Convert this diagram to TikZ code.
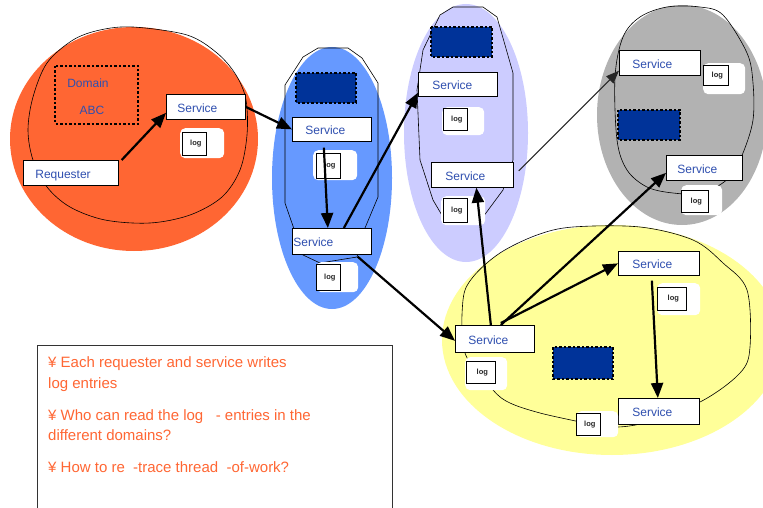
\documentclass[tikz,border=0pt]{standalone}
\usepackage{fontspec}
\setmainfont{Liberation Sans}
\usetikzlibrary{arrows.meta,calc}
\definecolor{orng}{HTML}{FF6633}
\definecolor{bluefill}{HTML}{6699FF}
\definecolor{lavfill}{HTML}{CCCCFF}
\definecolor{grayfill}{HTML}{B2B2B2}
\definecolor{yelfill}{HTML}{FFFF99}
\definecolor{dkblue}{HTML}{003399}
\definecolor{svcblue}{HTML}{2F4FAF}
\definecolor{boxgray}{HTML}{333333}
\begin{document}
\begin{tikzpicture}[x=1pt,y=-1pt,
  outline/.style={draw=black, line width=0.6pt},
  svc/.style={draw=black, line width=0.7pt, fill=white, font=\fontsize{12}{14}\selectfont,
    text=svcblue, minimum height=25pt, inner ysep=0pt, align=left, anchor=north west,
    text height=11pt, text depth=0pt},
  blob/.style={fill=white, rounded corners=5pt, inner sep=0pt, anchor=north west},
  logrect/.style={draw=black, line width=0.6pt, fill=white, inner sep=0pt, anchor=north west,
    font=\fontsize{7.5}{8}\selectfont\bfseries, text=black!85},
  darkrect/.style={fill=dkblue, draw=black, line width=2.4pt, dash pattern=on 2.5pt off 2pt},
  arr/.style={line width=2.2pt, -{Triangle[length=15pt,width=12pt]}},
  thinarr/.style={line width=1pt, draw=black!85, -{Triangle[length=13pt,width=10pt]}},
  lbl/.style={font=\fontsize{12}{14}\selectfont, text=svcblue, inner sep=0pt}
]
\useasboundingbox (0,0) rectangle (763,508);

% ---------- domain fills ----------
\fill[yelfill] (612,340) ellipse [x radius=170pt, y radius=115pt];
\fill[orng] (134,139) ellipse [x radius=124pt, y radius=112pt];
\fill[bluefill] (332,178) ellipse [x radius=60pt, y radius=131pt];
\fill[lavfill] (466,133) ellipse [x radius=62pt, y radius=129pt];
\fill[grayfill] (682,115) ellipse [x radius=85pt, y radius=110pt];

% ---------- inner outlines ----------
\draw[outline] plot[smooth cycle, tension=0.55] coordinates {
  (133,27) (187,35) (217,53) (236,75) (246,100) (247,135) (240,170) (222,197)
  (190,215) (150,223) (105,220) (70,207) (47,187) (33,160) (28,130) (33,97)
  (47,63) (73,40) (100,30)};
\draw[outline] (303,57) -- (318,48) -- (348,48) -- (362,58) -- (378,83) -- (378,197)
  -- (365,228) -- (357,257) -- (320,263) -- (303,255) -- (285,203) -- (285,85) -- cycle;
\draw[outline] (440,15) -- (453,7) -- (483,7) -- (497,17) -- (513,73) -- (513,160)
  -- (503,190) -- (483,217) -- (463,220) -- (443,217) -- (433,200) -- (420,160)
  -- (417,90) -- (423,50) -- cycle;
\draw[outline] plot[smooth cycle, tension=0.55] coordinates {
  (640,17) (667,7) (700,7) (723,15) (747,53) (753,83) (753,120) (743,153)
  (730,177) (703,193) (673,193) (647,187) (627,170) (617,140) (615,77) (623,37)};
\draw[outline] plot[smooth cycle, tension=0.55] coordinates {
  (537,235) (573,227) (640,227) (693,240) (723,263) (747,290) (750,347) (740,373)
  (700,402) (640,424) (600,427) (580,422) (540,413) (510,403) (493,390) (465,353)
  (463,300) (473,277) (500,253)};

% ---------- dark / dotted boxes ----------
\draw[black, line width=2.4pt, dash pattern=on 2.5pt off 2pt] (55,66) rectangle (138,124);
\draw[darkrect] (296,73) rectangle (356,103);
\draw[darkrect] (431,27) rectangle (492,57);
\draw[darkrect] (618,110) rectangle (680,140);
\draw[darkrect] (553,347) rectangle (613,379);

\node[lbl] (dom) at (88,83) {Domain};
\node[lbl] (abc) at (92,110) {ABC};

% ---------- services ----------
\node[svc, text width=57pt, inner xsep=11pt] (s1) at (166,94) {Service};
\node[svc, text width=71pt, inner xsep=12pt] (req) at (23,160) {Requester};
\node[svc, text width=53pt, inner xsep=13pt, minimum height=24pt] (s2) at (292,117) {Service};
\node[svc, text width=77pt, inner xsep=1pt, minimum height=26pt] (s3) at (292,228) {Service};
\node[svc, text width=51pt, inner xsep=14pt, minimum height=24pt] (s4) at (418,72) {Service};
\node[svc, text width=54pt, inner xsep=14pt] (s5) at (431,162) {Service};
\node[svc, text width=55pt, inner xsep=13pt] (s6) at (619,50) {Service};
\node[svc, text width=54pt, inner xsep=11pt] (s7) at (666,155) {Service};
\node[svc, text width=53pt, inner xsep=13pt, minimum height=27pt] (s8) at (455,325) {Service};
\node[svc, text width=53pt, inner xsep=14pt, minimum height=24pt] (s9) at (618,251) {Service};
\node[svc, text width=53pt, inner xsep=14pt, minimum height=26pt] (s10) at (618,398) {Service};

% ---------- logs ----------
\node[blob, minimum width=44pt, minimum height=30pt] (b1) at (180,128) {};
\node[logrect, minimum width=24pt, minimum height=23pt] (l1) at (182,132) {\hspace{3pt}log};
\node[blob, minimum width=44pt, minimum height=30pt] (b2) at (313,150) {};
\node[logrect, minimum width=24pt, minimum height=25pt] (l2) at (316,153) {\hspace{3pt}log};
\node[blob, minimum width=42pt, minimum height=30pt] (b3) at (316,262) {};
\node[logrect, minimum width=24pt, minimum height=26pt] (l3) at (316,264) {\hspace{3pt}log};
\node[blob, minimum width=42pt, minimum height=28pt] (b4) at (442,107) {};
\node[logrect, minimum width=24pt, minimum height=22pt] (l4) at (443,108) {\hspace{3pt}log};
\node[blob, minimum width=44pt, minimum height=29pt] (b5) at (441,196) {};
\node[logrect, minimum width=24pt, minimum height=24pt] (l5) at (443,198) {\hspace{3pt}log};
\node[blob, minimum width=42pt, minimum height=31pt] (b6) at (703,63) {};
\node[logrect, minimum width=25pt, minimum height=20pt] (l6) at (703,65) {\hspace{3pt}log};
\node[blob, minimum width=41pt, minimum height=30pt] (b7) at (681,185) {};
\node[logrect, minimum width=27pt, minimum height=22pt] (l7) at (681,190) {\hspace{3pt}log};
\node[blob, minimum width=42pt, minimum height=33pt] (b8) at (465,357) {};
\node[logrect, minimum width=29pt, minimum height=22pt] (l8) at (466,361) {\hspace{3pt}log};
\node[blob, minimum width=43pt, minimum height=32pt] (b9) at (657,283) {};
\node[logrect, minimum width=29pt, minimum height=23pt] (l9) at (657,287) {\hspace{3pt}log};
\node[blob, minimum width=42pt, minimum height=26pt] (b10) at (576,411) {};
\node[logrect, minimum width=24pt, minimum height=22pt] (l10) at (576,413) {\hspace{3pt}log};

% ---------- connectors ----------
\draw[arr] ([xshift=3pt]req.north east) -- ([yshift=-6pt]s1.west);
\draw[arr] (s1.east) -- (s2.west);
\draw[arr] ([xshift=-8pt,yshift=-6pt]s2.south) -- ([xshift=-4pt]s3.north);
\draw[arr] ([xshift=12pt]s3.north) -- ([yshift=4pt]s4.south west);
\draw[arr] ([xshift=-14pt,yshift=-2pt]s3.south east) -- ([yshift=-2pt]s8.west);
\draw[arr] ([xshift=-4pt]s8.north) -- ([xshift=4pt]s5.south);
\draw[arr] ([xshift=6pt]s8.north) -- ([yshift=-5pt]s7.west);
\draw[arr] ([xshift=6pt,yshift=2pt]s8.north) -- (s9.west);
\draw[arr] ([xshift=-7pt,yshift=-5pt]s9.south) -- ([xshift=-1pt]s10.north);
\draw[thinarr] ([xshift=5pt,yshift=4pt]s5.east) -- ([yshift=5pt]s6.south west);

% ---------- text box ----------
\node[draw=boxgray, line width=0.8pt, anchor=north west, minimum width=355pt,
  minimum height=175pt, inner sep=0pt] (tbox) at (37,345) {};
\node[anchor=base west, inner sep=0pt, align=left, text=orng,
  font=\fontsize{15}{20.5}\selectfont] (txt) at (48,472)
  {¥ Each requester and service writes\\
   log entries\\[11.5pt]
   ¥ Who can read the log \ \ - entries in the\\
   different domains?\\[11pt]
   ¥ How to re \ -trace thread \ -of-work?};
\end{tikzpicture}
\end{document}
